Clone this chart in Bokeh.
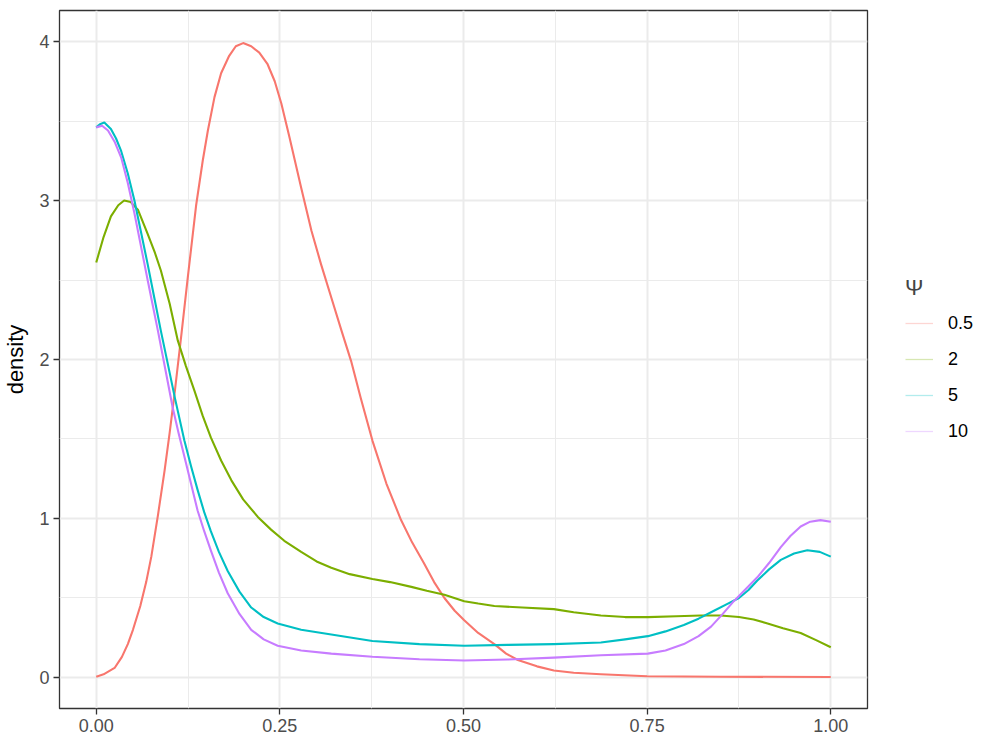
import math
from bokeh.plotting import figure
from bokeh.models import FixedTicker, Legend, LegendItem, Range1d
from bokeh.embed import file_html
from bokeh.resources import INLINE

# ---- data ----
groups = ["0.5", "2", "5", "10"]
colors = ["#F8766D", "#7CAE00", "#00BFC4", "#C77CFF"]

x_05 = [0, 0.01, 0.025, 0.035, 0.043, 0.05, 0.06, 0.068, 0.075, 0.084, 0.093, 0.1, 0.107,
        0.116, 0.125, 0.136, 0.145, 0.152, 0.161, 0.17, 0.181, 0.19, 0.2, 0.211, 0.222,
        0.233, 0.243, 0.252, 0.263, 0.279, 0.293, 0.306, 0.32, 0.334, 0.347, 0.36, 0.376,
        0.395, 0.415, 0.43, 0.446, 0.46, 0.474, 0.488, 0.501, 0.52, 0.542, 0.558, 0.574,
        0.6, 0.623, 0.65, 0.687, 0.75, 0.85, 1.0]
y_05 = [0.005, 0.02, 0.06, 0.13, 0.21, 0.30, 0.45, 0.60, 0.76, 1.02, 1.30, 1.54, 1.80,
        2.16, 2.53, 2.97, 3.25, 3.44, 3.65, 3.80, 3.91, 3.97, 3.99, 3.97, 3.93,
        3.86, 3.75, 3.61, 3.40, 3.08, 2.81, 2.60, 2.39, 2.18, 1.99, 1.76, 1.49,
        1.22, 0.99, 0.85, 0.72, 0.60, 0.50, 0.42, 0.36, 0.28, 0.21, 0.15, 0.11,
        0.07, 0.044, 0.03, 0.02, 0.008, 0.005, 0.003]

x_2 = [0, 0.01, 0.02, 0.03, 0.038, 0.047, 0.057, 0.07, 0.08, 0.088, 0.1, 0.111, 0.122,
       0.134, 0.145, 0.156, 0.17, 0.184, 0.2, 0.22, 0.238, 0.256, 0.279, 0.3, 0.32, 0.345,
       0.376, 0.4, 0.429, 0.45, 0.474, 0.501, 0.52, 0.542, 0.58, 0.623, 0.65, 0.687, 0.72,
       0.751, 0.79, 0.823, 0.85, 0.875, 0.895, 0.914, 0.935, 0.959, 0.98, 1.0]
y_2 = [2.61, 2.77, 2.90, 2.97, 3.0, 2.99, 2.94, 2.79, 2.67, 2.56, 2.35, 2.12, 1.96,
       1.80, 1.645, 1.51, 1.365, 1.24, 1.12, 1.01, 0.93, 0.86, 0.79, 0.73, 0.69, 0.65,
       0.62, 0.60, 0.57, 0.545, 0.52, 0.48, 0.465, 0.45, 0.44, 0.43, 0.41, 0.39, 0.38,
       0.38, 0.385, 0.39, 0.39, 0.38, 0.365, 0.34, 0.31, 0.28, 0.235, 0.19]

x_5 = [0, 0.005, 0.011, 0.02, 0.027, 0.034, 0.043, 0.052, 0.061, 0.07, 0.079, 0.088, 0.098,
       0.107, 0.12, 0.129, 0.138, 0.147, 0.156, 0.167, 0.179, 0.195, 0.211, 0.228, 0.247,
       0.279, 0.32, 0.376, 0.44, 0.501, 0.56, 0.623, 0.687, 0.72, 0.751, 0.775, 0.80, 0.82,
       0.841, 0.858, 0.875, 0.888, 0.90, 0.916, 0.932, 0.95, 0.968, 0.985, 1.0]
y_5 = [3.46, 3.48, 3.49, 3.45, 3.39, 3.31, 3.17, 3.0, 2.80, 2.60, 2.39, 2.18, 1.96,
       1.76, 1.49, 1.33, 1.18, 1.04, 0.92, 0.79, 0.67, 0.54, 0.44, 0.38, 0.34,
       0.30, 0.27, 0.23, 0.21, 0.20, 0.205, 0.21, 0.22, 0.24, 0.26, 0.29, 0.33, 0.37,
       0.42, 0.46, 0.50, 0.55, 0.61, 0.68, 0.74, 0.78, 0.80, 0.79, 0.76]

x_10 = [0, 0.008, 0.016, 0.025, 0.034, 0.043, 0.052, 0.061, 0.07, 0.077, 0.084, 0.094, 0.104,
        0.112, 0.12, 0.129, 0.138, 0.147, 0.156, 0.167, 0.179, 0.195, 0.211, 0.228, 0.247,
        0.279, 0.32, 0.376, 0.44, 0.501, 0.56, 0.623, 0.687, 0.751, 0.775, 0.80, 0.82, 0.837,
        0.853, 0.868, 0.885, 0.90, 0.916, 0.932, 0.945, 0.959, 0.972, 0.986, 1.0]
y_10 = [3.46, 3.47, 3.44, 3.37, 3.27, 3.11, 2.92, 2.71, 2.50, 2.34, 2.18, 1.94, 1.70,
        1.54, 1.39, 1.22, 1.05, 0.92, 0.80, 0.66, 0.53, 0.40, 0.30, 0.24, 0.20,
        0.17, 0.15, 0.13, 0.115, 0.107, 0.113, 0.125, 0.14, 0.15, 0.17, 0.21, 0.26, 0.32,
        0.40, 0.48, 0.56, 0.63, 0.72, 0.82, 0.89, 0.95, 0.98, 0.99, 0.98]

x_ticks = [0, 0.25, 0.5, 0.75, 1.0]
x_tick_labels = ["0.00", "0.25", "0.50", "0.75", "1.00"]
x_minor = [0.125, 0.375, 0.625, 0.875]
y_ticks = [0, 1, 2, 3, 4]
y_minor = [0.5, 1.5, 2.5, 3.5]

xs = [x_05, x_2, x_5, x_10]
ys = [y_05, y_2, y_5, y_10]

FONT = "Liberation Sans"

p = figure(frame_width=808, frame_height=698,
           x_range=Range1d(-0.05, 1.05), y_range=Range1d(-0.195, 4.195),
           output_backend="svg", toolbar_location=None,
           min_border_left=54, min_border_top=10, min_border_right=119, min_border_bottom=30,
           background_fill_color="white", border_fill_color="white")

p.outline_line_color = "#333333"
p.outline_line_width = 1.3

p.xaxis.ticker = FixedTicker(ticks=x_ticks, minor_ticks=x_minor)
p.yaxis.ticker = FixedTicker(ticks=y_ticks, minor_ticks=y_minor)
p.xaxis.major_label_overrides = {t: l for t, l in zip(x_ticks, x_tick_labels)}

for ax in (p.xaxis, p.yaxis):
    ax.axis_line_color = None
    ax.major_tick_line_color = "#333333"
    ax.major_tick_line_width = 1.3
    ax.major_tick_out = 6
    ax.major_tick_in = 0
    ax.minor_tick_line_color = None
    ax.major_label_text_font = FONT
    ax.major_label_text_font_size = "18px"
    ax.major_label_text_color = "#4D4D4D"
    ax.major_label_standoff = 4

p.yaxis.axis_label = "density"
p.yaxis.axis_label_text_font = FONT
p.yaxis.axis_label_text_font_size = "22px"
p.yaxis.axis_label_text_font_style = "normal"
p.yaxis.axis_label_text_color = "black"
p.yaxis.axis_label_standoff = 8

for g in (p.xgrid, p.ygrid):
    g.grid_line_color = "#EBEBEB"
    g.grid_line_width = 2
    g.minor_grid_line_color = "#EBEBEB"
    g.minor_grid_line_width = 1

items = []
for name, col, xv, yv in zip(groups, colors, xs, ys):
    p.line(xv, yv, line_color=col, line_width=2.1, line_join="round")
    dummy = p.line([math.nan], [math.nan], line_color=col, line_width=1.3, line_alpha=0.3)
    items.append(LegendItem(label=name, renderers=[dummy]))

legend = Legend(items=items, location="center_left", title="Ψ",
                title_text_font=FONT, title_text_font_size="22px", title_text_font_style="normal",
                title_standoff=10,
                label_text_font=FONT, label_text_font_size="18px", label_text_color="black",
                glyph_width=28, glyph_height=24, label_height=24, label_standoff=15,
                spacing=12, padding=10, margin=38,
                border_line_color=None, background_fill_alpha=0)
p.add_layout(legend, "right")

open("out.html", "w").write(file_html(p, INLINE))
